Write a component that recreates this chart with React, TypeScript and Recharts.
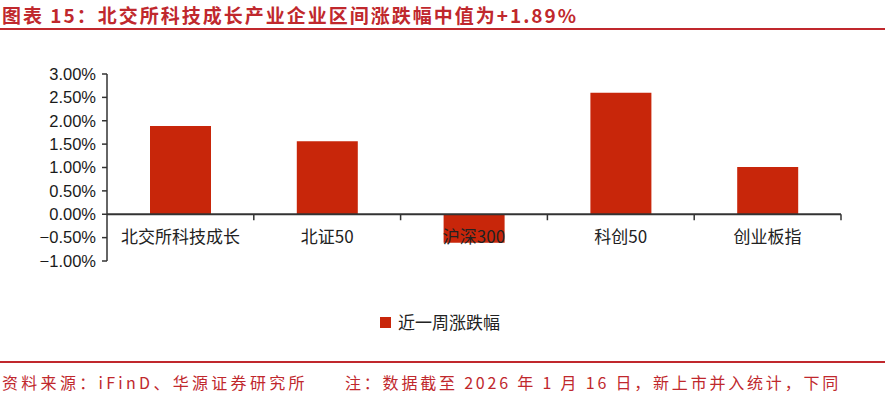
import React from 'react';
import { BarChart, Bar, XAxis, YAxis, ReferenceLine } from 'recharts';

const categories = ['北交所科技成长', '北证50', '沪深300', '科创50', '创业板指'];
const weeklyChange = [1.89, 1.56, -0.61, 2.6, 1.01];
const yTicks = [-1, -0.5, 0, 0.5, 1, 1.5, 2, 2.5, 3];
const seriesName = '近一周涨跌幅';

const data = categories.map((name, i) => ({ name, value: weeklyChange[i] }));

const W = 888;
const H = 398;
const CHART_H = 280;
const X_AXIS_H = 19;
const M = { top: 74, right: 47, left: 7, bottom: 0 };
const Y_AXIS_W = 100;
const Y_MIN = -1;
const Y_MAX = 3;
const RED = '#c0282d';
const BAR = '#c8260a';
const CJK = '"Noto Sans CJK SC", "Noto Sans", sans-serif';

const plotH = CHART_H - M.top - M.bottom - X_AXIS_H;
const plotW = W - M.left - M.right - Y_AXIS_W;
const zeroY = M.top + (plotH * Y_MAX) / (Y_MAX - Y_MIN);
const band = plotW / categories.length;

const fmt = (v: number) => (v < 0 ? '−' : '') + Math.abs(v).toFixed(2) + '%';

// category labels sit just under the zero line, like the Excel original
const CategoryTick = (props: any) => {
  const { x, payload } = props;
  return (
    <g>
      <line x1={x + band / 2} y1={zeroY} x2={x + band / 2} y2={zeroY + 6} stroke="#333" strokeWidth={1.5} />
      <text x={x} y={zeroY + 29} textAnchor="middle" fontSize={17} fill="#222" fontFamily={CJK}>
        {payload.value}
      </text>
    </g>
  );
};

const App = () => (
  <div style={{ position: 'absolute', left: 0, top: 0, width: W, height: H, background: '#fff', fontFamily: CJK }}>
    <div
      style={{
        position: 'absolute', left: 2, top: 3, fontSize: 19, fontWeight: 700, color: RED,
        letterSpacing: 2, whiteSpace: 'nowrap', lineHeight: '24px',
      }}
    >
      图表 15：北交所科技成长产业企业区间涨跌幅中值为+1.89%
    </div>
    <div style={{ position: 'absolute', left: 0, top: 28, width: 885, height: 2, background: RED }} />

    <div style={{ position: 'absolute', left: 0, top: 0 }}>
      <BarChart width={W} height={CHART_H} data={data} margin={M}>
        <YAxis
          width={Y_AXIS_W}
          domain={[Y_MIN, Y_MAX]}
          ticks={yTicks}
          tickFormatter={fmt}
          axisLine={{ stroke: '#333', strokeWidth: 1.5 }}
          tickLine={{ stroke: '#333', strokeWidth: 1.5 }}
          tickSize={5}
          tickMargin={6}
          tick={{ fontSize: 16.5, fill: '#1a1a1a', fontFamily: 'Liberation Sans, Arial, sans-serif' }}
          interval={0}
        />
        <XAxis
          dataKey="name"
          height={X_AXIS_H}
          axisLine={false}
          tickLine={false}
          interval={0}
          tick={<CategoryTick />}
        />
        <ReferenceLine y={0} stroke="#333" strokeWidth={2} />
        <Bar dataKey="value" name={seriesName} fill={BAR} barSize={61} isAnimationActive={false} />
      </BarChart>
    </div>

    <div style={{ position: 'absolute', left: 380, top: 311, display: 'flex', alignItems: 'center', whiteSpace: 'nowrap' }}>
      <span style={{ display: 'inline-block', width: 11, height: 11, background: BAR, marginRight: 7 }} />
      <span style={{ fontSize: 17, color: '#222', lineHeight: '22px' }}>{seriesName}</span>
    </div>

    <div style={{ position: 'absolute', left: 0, top: 361, width: 885, height: 2, background: RED }} />
    <div
      style={{
        position: 'absolute', left: 2, top: 371, fontSize: 16, color: RED, letterSpacing: 3.3,
        whiteSpace: 'nowrap', lineHeight: '22px',
      }}
    >
      资料来源：iFinD、华源证券研究所
    </div>
    <div
      style={{
        position: 'absolute', left: 345, top: 371, fontSize: 16, color: RED, letterSpacing: 2.8,
        whiteSpace: 'nowrap', lineHeight: '22px',
      }}
    >
      注：数据截至 2026 年 1 月 16 日，新上市并入统计，下同
    </div>
  </div>
);

export default App;
